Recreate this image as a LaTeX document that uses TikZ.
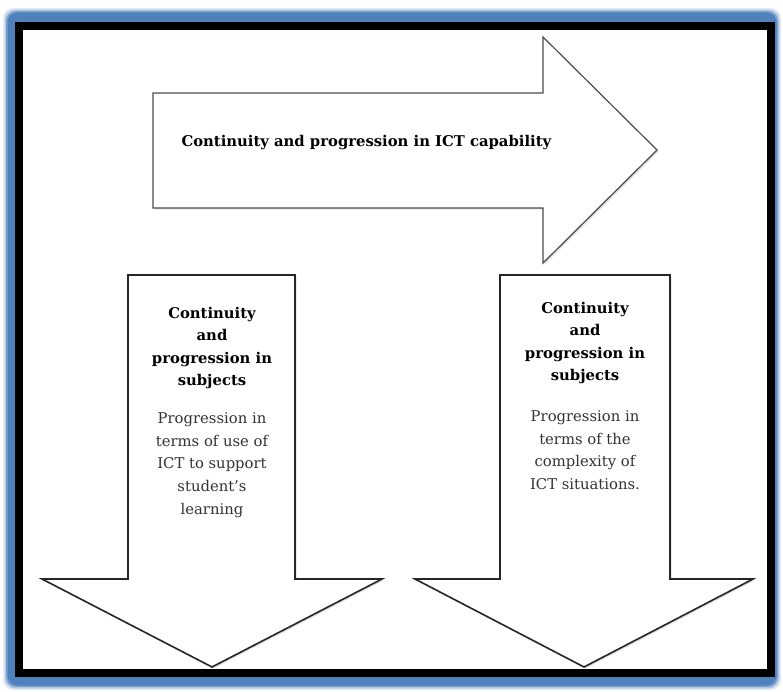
\documentclass[tikz,border=0pt]{standalone}
\usepackage{fontspec}
\setmainfont{DejaVu Serif}
\usetikzlibrary{shadows}
\definecolor{framebl}{RGB}{79,129,189}
\begin{document}
\begin{tikzpicture}[x=1pt,y=-1pt,
  arrowshape/.style={draw=black!85,line width=1.6pt,fill=white,line join=miter,
    drop shadow={shadow xshift=1.5pt,shadow yshift=-1.5pt,opacity=0.25}},
  headtext/.style={font=\fontsize{14.8}{22.6}\selectfont\bfseries,align=center},
  bodytext/.style={font=\fontsize{14.8}{22.6}\selectfont,align=center,text=black!80}]
\useasboundingbox (0,0) rectangle (783,692);
% blue frame, soft edge
\foreach \i/\o in {0/0.15,1.5/0.3,3/0.6,4.5/1}
  \fill[framebl,opacity=\o,rounded corners=10] (3+\i,8+\i) rectangle (781-\i,690-\i);
\fill[black] (15,22) rectangle (775,677);
\fill[white] (23,30) rectangle (767,669);
% arrow to the right
\draw[arrowshape,draw=black!70,line width=1.2pt] (153,93) -- (543,93) -- (543,37) -- (657,150)
  -- (543,263) -- (543,208) -- (153,208) -- cycle;
\node[headtext,anchor=west] (ictcap) at (178,143) {Continuity and progression in ICT capability};
% arrows down
\draw[arrowshape] (128,275) -- (295,275) -- (295,579) -- (382,579) -- (212,667)
  -- (42,579) -- (128,579) -- cycle;
\draw[arrowshape] (500,275) -- (670,275) -- (670,579) -- (753,579) -- (584,667)
  -- (415,579) -- (500,579) -- cycle;
\node[headtext] (subjleft) at (212,348) {Continuity\\and\\progression in\\subjects};
\node[bodytext] (useleft) at (212,465) {Progression in\\terms of use of\\ICT to support\\student’s\\learning};
\node[headtext] (subjright) at (585,343) {Continuity\\and\\progression in\\subjects};
\node[bodytext] (cplxright) at (585,450) {Progression in\\terms of the\\complexity of\\ICT situations.};
\end{tikzpicture}
\end{document}
